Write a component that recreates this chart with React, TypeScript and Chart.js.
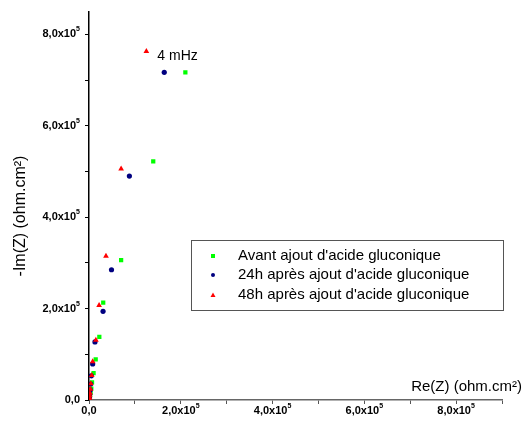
import React, { useEffect, useRef } from "react";
import { Chart, registerables } from "chart.js";

Chart.register(...registerables);

const seriesNames = [
  "Avant ajout d'acide gluconique",
  "24h après ajout d'acide gluconique",
  "48h après ajout d'acide gluconique",
];

const avantRe = [2.10e5, 1.40e5, 0.70e5, 0.31e5, 0.225e5, 0.146e5, 0.10e5, 0.066e5, 0.05e5, 0.035e5, 0.025e5, 0.018e5, 0.012e5, 0.008e5];
const avantIm = [7.17e5, 5.22e5, 3.06e5, 2.13e5, 1.38e5, 0.89e5, 0.59e5, 0.385e5, 0.25e5, 0.16e5, 0.10e5, 0.06e5, 0.035e5, 0.015e5];

const h24Re = [1.64e5, 0.88e5, 0.49e5, 0.306e5, 0.13e5, 0.08e5, 0.05e5, 0.035e5, 0.025e5, 0.015e5, 0.01e5, 0.006e5];
const h24Im = [7.17e5, 4.90e5, 2.85e5, 1.94e5, 1.27e5, 0.79e5, 0.53e5, 0.35e5, 0.22e5, 0.13e5, 0.07e5, 0.03e5];

const h48Re = [1.25e5, 0.70e5, 0.37e5, 0.22e5, 0.15e5, 0.08e5, 0.06e5, 0.04e5, 0.03e5, 0.02e5, 0.015e5, 0.01e5, 0.006e5, 0.003e5];
const h48Im = [7.63e5, 5.06e5, 3.15e5, 2.07e5, 1.31e5, 0.84e5, 0.54e5, 0.36e5, 0.24e5, 0.15e5, 0.10e5, 0.06e5, 0.03e5, 0.01e5];

const xTickValues = [0, 1e5, 2e5, 3e5, 4e5, 5e5, 6e5, 7e5, 8e5, 9e5];
const yTickValues = [0, 1e5, 2e5, 3e5, 4e5, 5e5, 6e5, 7e5, 8e5];

const annotationText = "4 mHz";
const xTitle = "Re(Z) (ohm.cm²)";
const yTitle = "-Im(Z) (ohm.cm²)";

const FONT = "Arial, 'Liberation Sans', sans-serif";

function pts(xs: number[], ys: number[]) {
  return xs.map((x, i) => ({ x, y: ys[i] }));
}

function tickParts(value: number): [string, string] | null {
  const n = Math.round(value / 1e5);
  if (n % 2 !== 0) return null;
  if (n === 0) return ["0,0", ""];
  return [`${n},0x10`, "5"];
}

function tickLabel(value: number) {
  const p = tickParts(value);
  return p ? p[0] + p[1] : "";
}

const overlayPlugin = {
  id: "overlay",
  afterDraw(chart: any) {
    const ctx = chart.ctx;
    const xs = chart.scales.x;
    const ys = chart.scales.y;
    ctx.save();
    // tick labels with superscript
    const mainFont = `bold 11px ${FONT}`;
    const supFont = `bold 7px ${FONT}`;
    ctx.fillStyle = "#000";
    ctx.textBaseline = "middle";
    ys.ticks.forEach((t: any) => {
      const p = tickParts(t.value);
      if (!p) return;
      const py = ys.getPixelForValue(t.value);
      const right = ys.right - 9;
      ctx.font = supFont;
      const sw = p[1] ? ctx.measureText(p[1]).width : 0;
      ctx.textAlign = "right";
      if (p[1]) ctx.fillText(p[1], right, py - 5);
      ctx.font = mainFont;
      ctx.fillText(p[0], right - sw, py);
    });
    xs.ticks.forEach((t: any) => {
      const p = tickParts(t.value);
      if (!p) return;
      const px = xs.getPixelForValue(t.value);
      const py = xs.top + 11;
      ctx.font = mainFont;
      const mw = ctx.measureText(p[0]).width;
      ctx.font = supFont;
      const sw = p[1] ? ctx.measureText(p[1]).width : 0;
      const left = px - (mw + sw) / 2;
      ctx.textAlign = "left";
      ctx.font = mainFont;
      ctx.fillText(p[0], left, py);
      if (p[1]) {
        ctx.font = supFont;
        ctx.fillText(p[1], left + mw, py - 5);
      }
    });
    // annotation
    ctx.fillStyle = "#000";
    ctx.font = `14px ${FONT}`;
    ctx.textBaseline = "middle";
    ctx.textAlign = "left";
    ctx.fillText(annotationText, xs.getPixelForValue(h48Re[0]) + 11, ys.getPixelForValue(h48Im[0]) + 5);
    // x title
    ctx.font = `15px ${FONT}`;
    ctx.textAlign = "right";
    ctx.fillText(xTitle, chart.chartArea.right + 20, chart.chartArea.bottom - 13);
    // y title
    ctx.save();
    ctx.translate(21, 216);
    ctx.rotate(-Math.PI / 2);
    ctx.textAlign = "center";
    ctx.font = `16px ${FONT}`;
    ctx.fillText(yTitle, 0, 0);
    ctx.restore();
    // legend
    const bx = 191.5, by = 240.5, bw = 312, bh = 70;
    ctx.strokeStyle = "#555";
    ctx.lineWidth = 1;
    ctx.fillStyle = "#fff";
    ctx.fillRect(bx, by, bw, bh);
    ctx.strokeRect(bx, by, bw, bh);
    const rows = [256, 275, 295];
    chart.data.datasets.forEach((ds: any, i: number) => {
      const yy = rows[i];
      const mx = 213;
      ctx.fillStyle = ds.backgroundColor;
      if (ds.pointStyle === "rect") {
        ctx.fillRect(mx - 2, yy - 2, 4, 4);
      } else if (ds.pointStyle === "circle") {
        ctx.beginPath();
        ctx.arc(mx, yy, 2, 0, Math.PI * 2);
        ctx.fill();
      } else {
        ctx.beginPath();
        ctx.moveTo(mx, yy - 2.5);
        ctx.lineTo(mx + 2.5, yy + 2);
        ctx.lineTo(mx - 2.5, yy + 2);
        ctx.closePath();
        ctx.fill();
      }
      ctx.fillStyle = "#000";
      ctx.font = `15px ${FONT}`;
      ctx.textAlign = "left";
      ctx.fillText(ds.label, 238, yy);
    });
    ctx.restore();
  },
};

export default function App() {
  const ref = useRef<HTMLCanvasElement | null>(null);
  useEffect(() => {
    if (!ref.current) return;
    const chart = new Chart(ref.current, {
      type: "scatter",
      data: {
        datasets: [
          {
            label: seriesNames[0],
            data: pts(avantRe, avantIm),
            pointStyle: "rect",
            pointRadius: 3,
            backgroundColor: "#00ff00",
            borderColor: "#00ff00",
            borderWidth: 0,
            order: 2,
          },
          {
            label: seriesNames[1],
            data: pts(h24Re, h24Im),
            pointStyle: "circle",
            pointRadius: 2.6,
            backgroundColor: "#000080",
            borderColor: "#000080",
            borderWidth: 0,
            order: 1,
          },
          {
            label: seriesNames[2],
            data: pts(h48Re, h48Im),
            pointStyle: "triangle",
            pointRadius: 3.3,
            backgroundColor: "#ff0000",
            borderColor: "#ff0000",
            borderWidth: 0,
            order: 0,
          },
        ] as any,
      },
      options: {
        animation: false,
        responsive: false,
        devicePixelRatio: 1,
        layout: { padding: { left: 0, right: 21, top: 9, bottom: 0 } },
        plugins: { legend: { display: false }, tooltip: { enabled: false } },
        scales: {
          x: {
            type: "linear",
            min: 0,
            max: 9e5,
            afterBuildTicks: (axis: any) => { axis.ticks = xTickValues.map((v) => ({ value: v })); },
            afterFit: (axis: any) => { axis.height = 25; },
            grid: { display: true, drawOnChartArea: false, drawTicks: true, tickLength: 4, color: "#555" },
            border: { display: true, color: "#666", width: 1.5 },
            ticks: {
              autoSkip: false,
              maxRotation: 0,
              padding: 2,
              color: "rgba(0,0,0,0)",
              font: { family: FONT, size: 11, weight: "bold" },
              callback: (v: any) => tickLabel(Number(v)),
            },
          },
          y: {
            type: "linear",
            min: 0,
            max: 8.5e5,
            afterBuildTicks: (axis: any) => { axis.ticks = yTickValues.map((v) => ({ value: v })); },
            afterFit: (axis: any) => { axis.width = 89; },
            grid: { display: true, drawOnChartArea: false, drawTicks: true, tickLength: 4, color: "#000" },
            border: { display: true, color: "#000", width: 1.5 },
            ticks: {
              autoSkip: false,
              padding: 5,
              color: "rgba(0,0,0,0)",
              font: { family: FONT, size: 11, weight: "bold" },
              callback: (v: any) => tickLabel(Number(v)),
            },
          },
        },
      },
      plugins: [overlayPlugin],
    } as any);
    return () => chart.destroy();
  }, []);
  return (
    <div style={{ position: "absolute", left: 0, top: 0, width: 523, height: 425, background: "#fff" }}>
      <canvas ref={ref} width={523} height={425} style={{ width: 523, height: 425 }} />
    </div>
  );
}
